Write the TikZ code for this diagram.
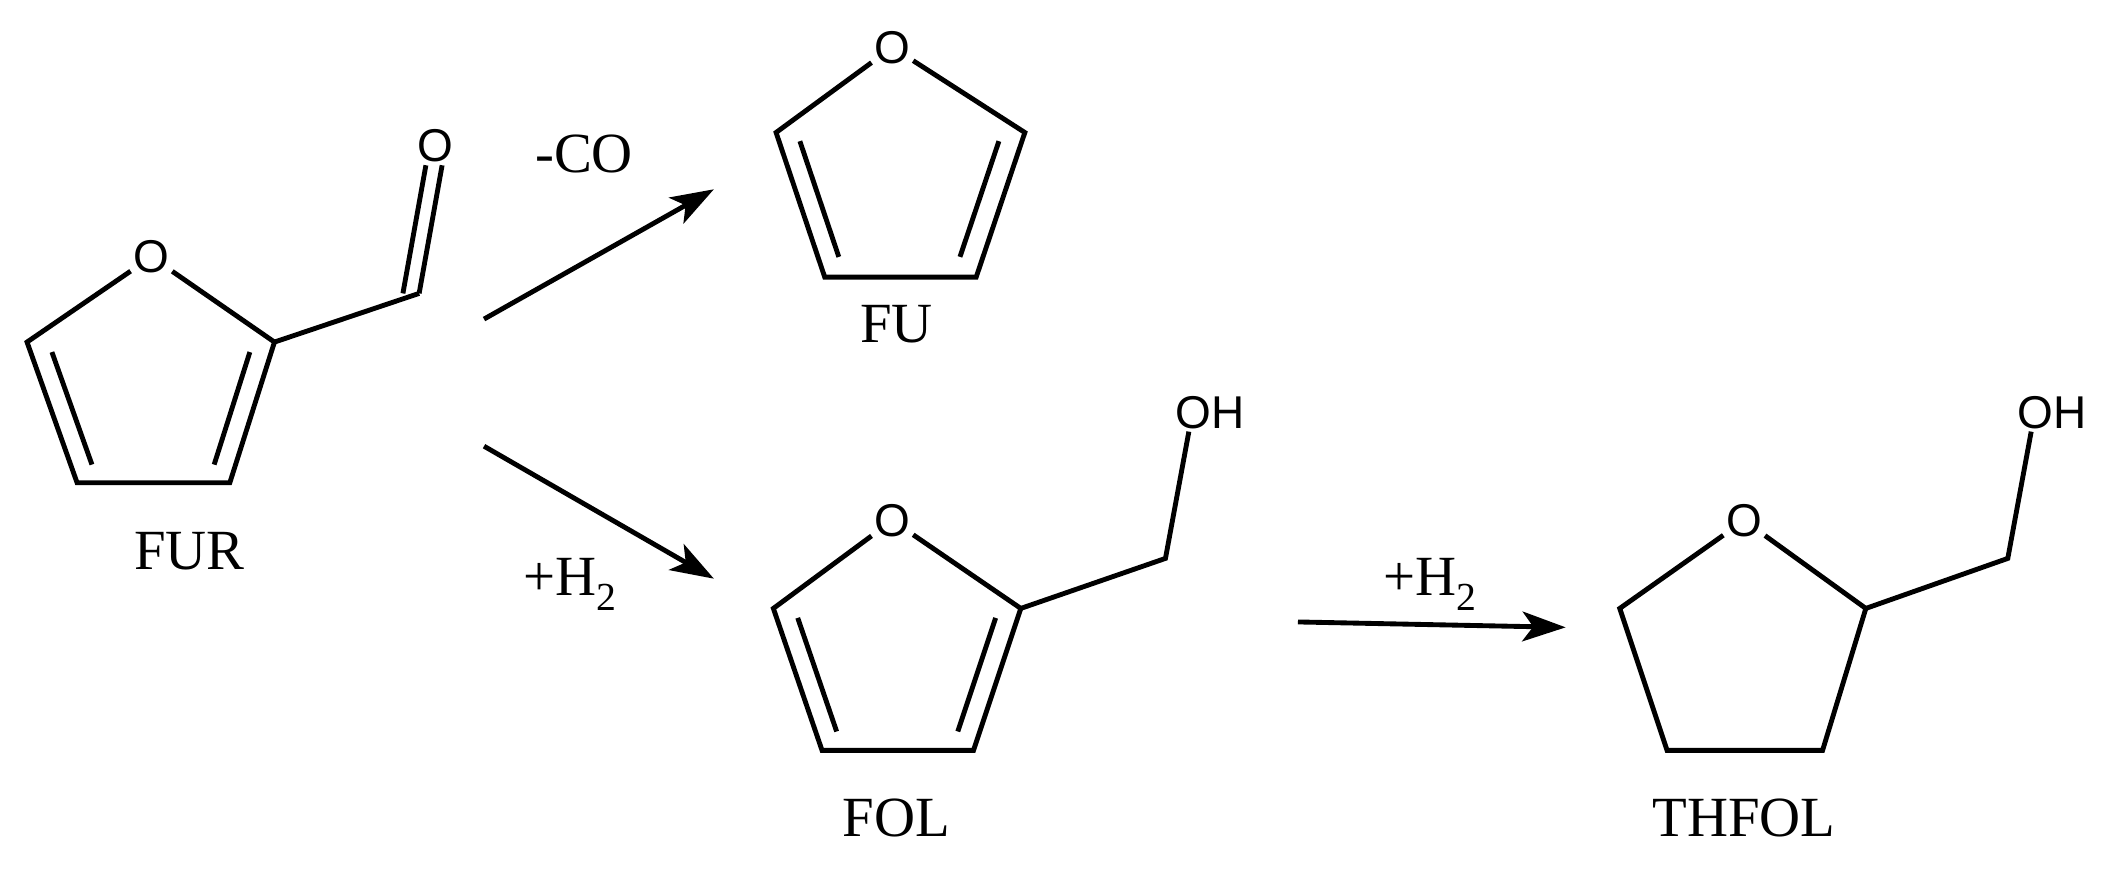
\documentclass[tikz,border=0pt]{standalone}
\usepackage{fontspec}
\setmainfont{Liberation Serif}
\newfontfamily\atomfont{Liberation Sans}
\usetikzlibrary{calc,arrows.meta}
\tikzset{bond/.style={line width=3.6pt},
 atom/.style={font=\atomfont\fontsize{34}{34}\selectfont,inner sep=2pt},
 lbl/.style={font=\fontsize{42}{42}\selectfont,inner sep=0pt},
 rxn/.style={line width=3.6pt,-{Stealth[length=32pt,width=22pt,inset=8pt]}}}
\newcommand\myring[6]{% prefix, O pos, c2, c3, c4, c5
 \node[atom] (#1O) at (#2) {O};
 \coordinate (#1a) at (#3); \coordinate (#1b) at (#4);
 \coordinate (#1c) at (#5); \coordinate (#1d) at (#6);
 \draw[bond] (#1O) -- (#1a) -- (#1b) -- (#1c) -- (#1d) -- (#1O);
}
\newcommand\mydbl[3]{\draw[bond] ($(#3)!0.8!(#1)$) -- ($(#3)!0.8!(#2)$);}
\begin{document}
\begin{tikzpicture}[x=1pt,y=-1pt]
\useasboundingbox (0,0) rectangle (1568,646);
% FUR
\myring{r}{112,190}{203,253}{170,357}{57,357}{20,253}
\coordinate (rcen) at (112,290);
\mydbl{ra}{rb}{rcen}\mydbl{rc}{rd}{rcen}
\coordinate (rC) at (310,217);
\draw[bond] (ra) -- (rC);
\node[atom] (rO2) at (322,108) {O};
\draw[bond] ($(rC)+(-12,0)$) -- ($(rO2.south)+(-7,0)$);
\draw[bond] (rC) -- ($(rO2.south)+(5,0)$);
\node[lbl] (FUR) at (140,408) {FUR};
% FU
\myring{u}{660,35}{758,98}{722,205}{610,205}{574,98}
\coordinate (ucen) at (662,130);
\mydbl{ua}{ub}{ucen}\mydbl{uc}{ud}{ucen}
\node[lbl] (FU) at (663,240) {FU};
% FOL
\myring{l}{660,385}{755,450}{720,555}{608,555}{572,450}
\coordinate (lcen) at (662,485);
\mydbl{la}{lb}{lcen}\mydbl{lc}{ld}{lcen}
\coordinate (lC) at (862,413);
\node[atom] (lOH) at (895,305) {OH};
\draw[bond] (la) -- (lC) -- ($(lOH.south west)+(12,0)$);
\node[lbl] (FOL) at (663,605) {FOL};
% THFOL
\myring{t}{1290,385}{1380,450}{1348,555}{1233,555}{1198,450}
\coordinate (tC) at (1485,413);
\node[atom] (tOH) at (1518,305) {OH};
\draw[bond] (ta) -- (tC) -- ($(tOH.south west)+(12,0)$);
\node[lbl] (THFOL) at (1290,605) {THFOL};
% arrows
\coordinate (a1s) at (358,236); \coordinate (a1e) at (528,140);
\coordinate (a2s) at (358,330); \coordinate (a2e) at (528,428);
\coordinate (a3s) at (960,460); \coordinate (a3e) at (1158,464);
\draw[rxn] (a1s) -- (a1e);
\draw[rxn] (a2s) -- (a2e);
\draw[rxn] (a3s) -- (a3e);
\node[lbl] (co) at (432,114) {-CO};
\node[lbl] (h1) at (422,432) {+H\textsubscript{2}};
\node[lbl] (h2) at (1058,432) {+H\textsubscript{2}};
\end{tikzpicture}
\end{document}
